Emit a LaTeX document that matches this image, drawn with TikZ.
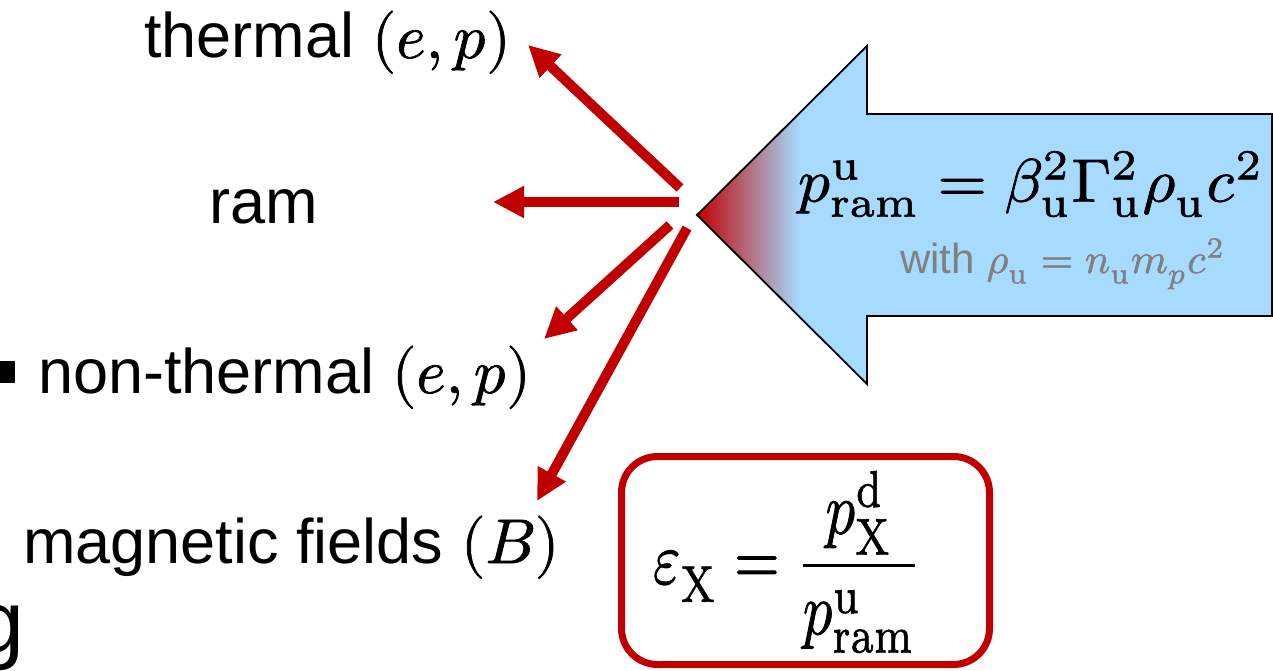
\documentclass[tikz,border=0pt]{standalone}
\usepackage{fontspec}
\usepackage{unicode-math}
\setmainfont{Liberation Sans}
\setmathfont{Latin Modern Math}[FakeBold=1.2]
\setmathrm{Latin Modern Roman}[FakeBold=1.2]
\usetikzlibrary{arrows.meta}
\definecolor{dred}{RGB}{192,0,0}
\definecolor{lblue}{RGB}{166,219,255}
\definecolor{fgray}{RGB}{128,128,128}
\tikzset{
  lbl/.style={anchor=base west, inner sep=0pt, font=\fontsize{63}{70}\selectfont},
  redarrow/.style={draw=dred, line width=10pt, -{Triangle[length=31pt,width=30pt]}},
  effbox/.style={draw=dred, line width=7pt, rounded corners=36pt, minimum width=368pt, minimum height=208pt, inner sep=0pt},
  mathnode/.style={inner sep=0pt}
}
\begin{document}
\begin{tikzpicture}[x=1pt,y=-1pt]
\useasboundingbox (0,0) rectangle (1273,671);
% labels
\node[lbl] (t1) at (144,58) {thermal $(e,p)$};
\node[lbl] (t2) at (209,223) {ram};
\node[lbl] (t3) at (38,393) {non-thermal $(e,p)$};
\node[lbl] (t4) at (23,563) {magnetic fields $(B)$};
\node[fill=black, minimum size=22pt, inner sep=0pt] (bul) at (4,372) {};
\node[anchor=base west, inner sep=0pt, font=\fontsize{88}{96}\selectfont] (gg) at (-25,652) {g};
% red arrows
\coordinate (s1) at (680,188); \coordinate (e1) at (528,45);
\coordinate (s2) at (679,202); \coordinate (e2) at (493,202);
\coordinate (s3) at (670,225); \coordinate (e3) at (544,339);
\coordinate (s4) at (687,228); \coordinate (e4) at (537,501);
\draw[redarrow] (s1) -- (e1);
\draw[redarrow] (s2) -- (e2);
\draw[redarrow] (s3) -- (e3);
\draw[redarrow] (s4) -- (e4);
% big arrow
\fill[lblue] (697,215) -- (867,46) -- (867,114) -- (1272,114) -- (1272,316) -- (867,316) -- (867,384) -- cycle;
\begin{scope}
\clip (697,215) -- (867,46) -- (867,114) -- (1272,114) -- (1272,316) -- (867,316) -- (867,384) -- cycle;
\shade[left color=dred, right color=lblue] (697,40) rectangle (800,390);
\end{scope}
\draw[black, line width=1.8pt, line join=miter] (697,215) -- (867,46) -- (867,114) -- (1272,114) -- (1272,316) -- (867,316) -- (867,384) -- cycle;
\node[mathnode] (pram) at (1031,184) {\resizebox*{466pt}{66pt}{$p^{\mathrm{u}}_{\mathrm{ram}} = \beta_{\mathrm{u}}^2\Gamma_{\mathrm{u}}^2\rho_{\mathrm{u}}c^2$}};
\node[mathnode, anchor=base west, text=fgray] (with) at (900,273) {\resizebox{325pt}{!}{with $\rho_{\mathrm{u}} = n_{\mathrm{u}} m_p c^2$}};
% efficiency box
\node[effbox] (box) at (805.5,560.5) {};
\node[mathnode, anchor=west] (eps) at (653,562) {\resizebox*{269pt}{182pt}{$\displaystyle\varepsilon_{\mathrm{X}} = \frac{p^{\mathrm{d}}_{\mathrm{X}}}{p^{\mathrm{u}}_{\mathrm{ram}}}$}};
\end{tikzpicture}
\end{document}
